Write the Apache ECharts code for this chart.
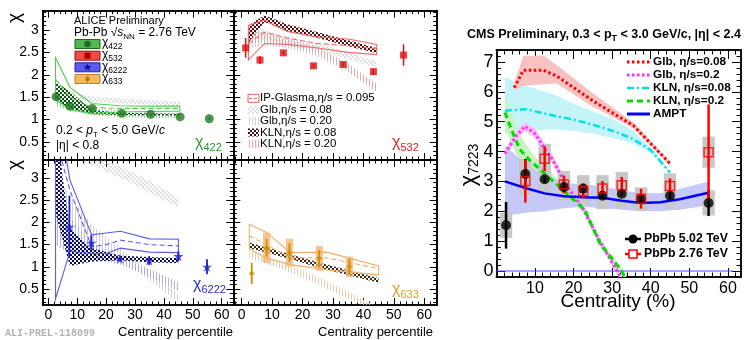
<!DOCTYPE html>
<html><head><meta charset="utf-8">
<script src="https://cdn.jsdelivr.net/npm/echarts@6.0.0/dist/echarts.min.js"></script>
<style>html,body{margin:0;padding:0;background:#fff;}#chart{width:747px;height:340px;}</style>
</head><body><div id="chart"></div>
<script>
// ======================= DATA =======================
// tick labels
const aliceXTickLabels = [0, 10, 20, 30, 40, 50, 60];
const aliceYTickLabels = [0.5, 1, 1.5, 2, 2.5, 3];
const cmsXTickLabels = [10, 20, 30, 40, 50, 60];
const cmsYTickLabels = [0, 1, 2, 3, 4, 5, 6, 7];

// ---- ALICE chi_422 (top-left) ----
const c422X = [2.7, 7.5, 15.2, 25.4, 35.4, 45.6, 55.7];
const c422Y = [1.51, 1.30, 1.25, 1.14, 1.12, 1.06, 1.02];
const c422Err = [0.03, 0.02, 0.02, 0.01, 0.01, 0.01, 0.02];
const m422X = [2.5, 7.5, 15, 25, 35, 45.5];
const m422IpgHi = [2.38, 1.72, 1.36, 1.31, 1.30, 1.30];
const m422IpgLo = [1.45, 1.22, 1.14, 1.17, 1.18, 1.19];
const m422IpgMid = [1.90, 1.50, 1.27, 1.25, 1.25, 1.25];
const m422Kln08Hi = [1.85, 1.62, 1.22, 1.15, 1.14, 1.13];
const m422Kln08Lo = [1.44, 1.25, 1.12, 1.10, 1.09, 1.09];
const m422Kln20Hi = [1.55, 1.40, 1.22, 1.15, 1.12, 1.10];
const m422Kln20Lo = [1.30, 1.20, 1.10, 1.06, 1.04, 1.03];
const m422Glb08Hi = [1.72, 1.60, 1.52, 1.47, 1.43, 1.40];
const m422Glb08Lo = [1.50, 1.45, 1.40, 1.36, 1.33, 1.30];
const m422Glb20Hi = [1.50, 1.40, 1.30, 1.22, 1.17, 1.14];
const m422Glb20Lo = [1.35, 1.28, 1.20, 1.14, 1.10, 1.07];

// ---- ALICE chi_532 (top-right) ----
const c532X = [1.3, 6.0, 13.7, 23.6, 33.4, 43.3, 53.2];
const c532Y = [2.60, 2.33, 2.49, 2.20, 2.23, 2.07, 2.44];
const c532Err = [0.22, 0.09, 0.04, 0.04, 0.04, 0.07, 0.24];
const m532X = [2.2, 7.5, 15, 25, 35, 44.4];
const m532IpgHi = [3.10, 3.22, 2.97, 2.84, 2.80, 2.68];
const m532IpgLo = [2.33, 2.70, 2.68, 2.60, 2.50, 2.45];
const m532IpgMid = [2.70, 2.95, 2.82, 2.70, 2.65, 2.58];
const m532Kln08Hi = [3.10, 3.33, 3.13, 2.95, 2.77, 2.60];
const m532Kln08Lo = [2.72, 3.18, 2.98, 2.82, 2.64, 2.48];
const m532Kln20Hi = [3.00, 2.95, 2.80, 2.62, 2.25, 1.80];
const m532Kln20Lo = [2.70, 2.75, 2.65, 2.48, 2.08, 1.65];
const m532Glb08Hi = [3.10, 3.00, 2.85, 2.70, 2.50, 2.30];
const m532Glb08Lo = [2.80, 2.80, 2.70, 2.55, 2.35, 2.15];
const m532Glb20Hi = [2.95, 2.85, 2.75, 2.55, 2.20, 1.75];
const m532Glb20Lo = [2.60, 2.65, 2.60, 2.40, 2.05, 1.60];

// ---- ALICE chi_6222 (bottom-left) ----
const c6222X = [7.3, 14.9, 24.8, 34.9, 45.0, 54.9];
const c6222Y = [1.90, 1.54, 1.18, 1.14, 1.24, 1.00];
const c6222Err = [0.70, 0.17, 0.05, 0.10, 0.11, 0.17];
const m6222IpgX = [2.5, 7.5, 15, 20, 25, 35, 45];
const m6222IpgHi = [4.80, 2.95, 1.72, 1.76, 1.80, 1.63, 1.62];
const m6222IpgLo = [0.28, 1.35, 1.30, 1.30, 1.42, 1.33, 1.32];
const m6222IpgMid = [3.90, 2.72, 1.45, 1.50, 1.60, 1.50, 1.47];
const m6222KlnX = [2.5, 5, 7.5, 15, 25, 35, 45];
const m6222Kln08Hi = [4.50, 3.00, 1.85, 1.42, 1.25, 1.22, 1.20];
const m6222Kln08Lo = [2.20, 1.60, 1.02, 1.12, 1.14, 1.10, 1.08];
const m6222X = [2.5, 7.5, 15, 25, 35, 45];
const m6222Kln20Hi = [2.55, 2.10, 1.55, 1.20, 0.95, 0.65];
const m6222Kln20Lo = [1.50, 1.30, 1.20, 1.05, 0.78, 0.45];
const m6222Glb08X = [2.5, 10, 20, 30, 40, 45];
const m6222Glb08Hi = [4.50, 3.75, 3.40, 3.10, 2.75, 2.55];
const m6222Glb08Lo = [4.00, 3.45, 3.15, 2.85, 2.50, 2.35];
const m6222Glb20Hi = [3.10, 2.60, 1.95, 1.40, 0.90, 0.38];
const m6222Glb20Lo = [2.30, 2.00, 1.60, 1.15, 0.70, 0.20];

// ---- ALICE chi_633 (bottom-right) ----
const c633X = [3.3, 8.2, 15.7, 25.5, 35.4];
const c633Y = [0.85, 1.43, 1.32, 1.19, 1.00];
const c633Err = [0.24, 0.20, 0.21, 0.19, 0.18];
const c633Sys = [0.00, 0.34, 0.31, 0.28, 0.23];
const m633IpgX = [2.5, 8, 16, 28, 45];
const m633IpgHi = [1.96, 1.78, 1.32, 1.33, 1.02];
const m633IpgLo = [1.40, 1.20, 1.05, 0.93, 0.82];
const m633IpgMid = [1.70, 1.50, 1.20, 1.20, 0.96];
const m633X = [2.5, 15, 25, 35, 45];
const m633Kln08Hi = [1.55, 1.30, 1.10, 0.92, 0.74];
const m633Kln08Lo = [1.42, 1.19, 0.99, 0.81, 0.64];
const m633Kln20X = [2.5, 15, 25, 35, 43];
const m633Kln20Hi = [1.38, 1.08, 0.78, 0.45, 0.15];
const m633Kln20Lo = [1.26, 0.96, 0.65, 0.30, 0.02];
const m633Glb08Hi = [1.50, 1.30, 1.12, 0.95, 0.80];
const m633Glb08Lo = [1.42, 1.22, 1.04, 0.87, 0.72];
const m633Glb20Hi = [1.30, 1.00, 0.70, 0.38, 0.10];
const m633Glb20Lo = [1.20, 0.90, 0.60, 0.28, 0.00];

// ---- CMS chi_7223 (right) ----
const cms502X = [2.5, 7.5, 12.5, 17.5, 22.5, 27.5, 32.5, 37.5, 45, 55];
const cms502Y = [1.53, 3.25, 3.07, 2.81, 2.76, 2.52, 2.59, 2.41, 2.52, 2.28];
const cms502Stat = [0.78, 0.50, 0.12, 0.08, 0.08, 0.08, 0.08, 0.08, 0.10, 0.44];
const cms502Sys = [0.42, 0.50, 0.45, 0.45, 0.45, 0.45, 0.50, 0.38, 0.43, 0.42];
const cms276X = [7.5, 12.5, 17.5, 22.5, 27.5, 32.5, 37.5, 45, 55];
const cms276Y = [3.01, 3.76, 2.90, 2.68, 2.76, 2.87, 2.42, 2.85, 3.98];
const cms276Stat = [0.72, 0.42, 0.30, 0.25, 0.25, 0.28, 0.33, 0.25, 1.60];
const cms276Sys = [0.45, 0.50, 0.45, 0.45, 0.45, 0.45, 0.38, 0.42, 0.52];
const glb08X = [4.6, 7, 12.2, 15.6, 25, 35.5, 45];
const glb08Y = [6.14, 6.72, 6.72, 6.53, 5.70, 4.87, 3.60];
const glb08Hi = [6.30, 7.20, 7.22, 6.90, 5.95, 4.98, 3.66];
const glb08Lo = [6.05, 6.20, 6.25, 6.28, 5.50, 4.78, 3.52];
const glb02X = [2.2, 5, 7.4, 10, 12, 14.7, 18, 22.4, 26.8, 31.3, 33];
const glb02Y = [3.93, 4.50, 4.85, 4.60, 4.20, 3.70, 2.90, 2.10, 1.00, 0.00, -0.40];
const glb02Hi = [4.05, 4.65, 5.00, 4.78, 4.38, 3.85, 3.05, 2.22, 1.12, 0.10, -0.30];
const glb02Lo = [3.80, 4.35, 4.70, 4.45, 4.05, 3.55, 2.75, 1.98, 0.88, -0.10, -0.50];
const kln08X = [2.2, 7.5, 15, 20, 25, 30, 35, 40, 45];
const kln08Y = [5.37, 5.42, 5.20, 5.07, 4.90, 4.70, 4.45, 4.05, 3.30];
const kln08Hi = [6.50, 6.20, 5.90, 5.60, 5.35, 5.10, 4.75, 4.15, 3.35];
const kln08Lo = [4.60, 4.70, 4.75, 4.70, 4.60, 4.45, 4.30, 3.95, 3.25];
const kln02X = [2.2, 4, 6.1, 8.7, 11.3, 17, 23, 26.8, 32.5, 34];
const kln02Y = [5.31, 4.70, 4.07, 3.70, 3.40, 2.75, 2.03, 0.93, 0.00, -0.40];
const kln02Hi = [5.90, 5.25, 4.55, 4.05, 3.65, 2.92, 2.15, 1.05, 0.10, -0.30];
const kln02Lo = [4.80, 4.25, 3.65, 3.35, 3.12, 2.58, 1.90, 0.80, -0.10, -0.50];
const amptX = [2.2, 7.5, 12.5, 17.5, 22.5, 27.5, 32.5, 37.5, 42.5, 47.5, 55];
const amptY = [3.00, 2.78, 2.60, 2.50, 2.47, 2.45, 2.35, 2.28, 2.30, 2.40, 2.62];
const amptHi = [4.20, 3.60, 3.20, 2.95, 2.90, 2.85, 2.70, 2.60, 2.60, 2.75, 3.00];
const amptLo = [1.85, 1.95, 2.00, 2.10, 2.15, 2.10, 2.05, 2.00, 2.00, 2.05, 2.20];
const zeroLineX = [0, 61.3];
const zeroLineY = [0, 0];

// ======================= LAYOUT / STYLE =======================
const FONT = '"Liberation Sans", Arial, Helvetica, sans-serif';
const G = [
  {left:42.7, top:10.7, width:190.6, height:149.3, x:[-1.94, 64.0], y:[0.098, 3.431], xl:false, yl:true},
  {left:233.3, top:10.7, width:203.4, height:149.3, x:[-2.76, 64.1], y:[0.098, 3.431], xl:false, yl:false},
  {left:42.7, top:160, width:190.6, height:145, x:[-1.94, 64.0], y:[0.14, 3.405], xl:true, yl:true},
  {left:233.3, top:160, width:203.4, height:145, x:[-2.76, 64.1], y:[0.14, 3.405], xl:true, yl:false},
  {left:496.4, top:50, width:244.6, height:227, x:[0, 63.4], y:[-0.2, 7.4], xl:true, yl:true}
];
function range(a, b, s) { const r = []; for (let v = a; v <= b + 1e-9; v += s) r.push(Math.round(v * 1000) / 1000); return r; }
const grids = [], xAxes = [], yAxes = [], AX = [];
function mkAxis(gi, pos, rng, ticks, len, labels, fs, margin, lw) {
  return {type:'value', gridIndex:gi, position:pos, min:rng[0], max:rng[1],
    splitLine:{show:false}, axisPointer:{show:false},
    axisLine:{show:true, onZero:false, lineStyle:{color:'#000', width:lw}},
    axisTick:{show:true, inside:true, length:len, customValues:ticks, lineStyle:{color:'#000', width:1}},
    axisLabel: labels ? {show:true, customValues:labels, color:'#000', fontFamily:FONT, fontSize:fs, margin:margin,
      formatter: v => String(+(+v).toFixed(1))} : {show:false}};
}
G.forEach((g, gi) => {
  grids.push({left:g.left, top:g.top, width:g.width, height:g.height, containLabel:false, outerBoundsMode:'none'});
  const cms = gi === 4;
  const xMaj = cms ? range(10, 60, 10) : range(0, 60, 10);
  const xMin = cms ? range(2, 62, 2) : range(-2, 64, 2);
  const yMaj = cms ? range(0, 7, 1) : range(0.5, 3, 0.5);
  const yMin = cms ? range(-0.2, 7.4, 0.2) : range(0.1, 3.4, 0.1);
  const ML = cms ? 9 : 7, ms = cms ? 4.5 : 3.5, lw = cms ? 1.5 : 1.7;
  AX.push({x: xAxes.length, y: yAxes.length});
  xAxes.push(mkAxis(gi, 'bottom', g.x, xMaj, ML, g.xl ? (cms ? cmsXTickLabels : aliceXTickLabels) : null, cms ? 16 : 14, cms ? 4 : 3, lw));
  xAxes.push(mkAxis(gi, 'bottom', g.x, xMin, ms, null, 0, 0, lw));
  xAxes.push(mkAxis(gi, 'top', g.x, xMaj, ML, null, 0, 0, lw));
  xAxes.push(mkAxis(gi, 'top', g.x, xMin, ms, null, 0, 0, lw));
  yAxes.push(mkAxis(gi, 'left', g.y, yMaj, ML, g.yl ? (cms ? cmsYTickLabels : aliceYTickLabels) : null, cms ? 18 : 14, cms ? 3 : 4, lw));
  yAxes.push(mkAxis(gi, 'left', g.y, yMin, ms, null, 0, 0, lw));
  yAxes.push(mkAxis(gi, 'right', g.y, yMaj, ML, null, 0, 0, lw));
  yAxes.push(mkAxis(gi, 'right', g.y, yMin, ms, null, 0, 0, lw));
});

// patterns
function pattern(w, h, draw) { const c = document.createElement('canvas'); c.width = w; c.height = h; const g = c.getContext('2d'); draw(g); return {image:c, repeat:'repeat'}; }
const checker = col => pattern(4, 4, g => { g.fillStyle = col; g.fillRect(0, 0, 2, 2); g.fillRect(2, 2, 2, 2); });
const vhatch = col => pattern(3, 1, g => { g.fillStyle = col; g.fillRect(0, 0, 1, 1); });
const GLB08 = checker('rgba(175,175,185,0.38)');
const GLB20 = vhatch('rgba(170,170,180,0.55)');

// series helpers
function pairs(xs, ys) { return xs.map((x, i) => [x, ys[i]]); }
function band(ax, xs, lo, hi, style, z) {
  return {type:'custom', xAxisIndex:ax.x, yAxisIndex:ax.y, z:z, silent:true, clip:true,
    data: xs.map((x, i) => [x, lo[i], hi[i]]), encode:{x:0, y:[1, 2]},
    renderItem: (p, api) => {
      if (p.dataIndex !== 0) return;
      const pts = [];
      for (let i = 0; i < xs.length; i++) pts.push(api.coord([xs[i], hi[i]]));
      for (let i = xs.length - 1; i >= 0; i--) pts.push(api.coord([xs[i], lo[i]]));
      return {type:'polygon', shape:{points:pts}, style:Object.assign({}, style)};
    }};
}
function line(ax, xs, ys, color, width, dash, z) {
  return {type:'line', xAxisIndex:ax.x, yAxisIndex:ax.y, z:z, silent:true, showSymbol:false, symbol:'none',
    data: pairs(xs, ys), lineStyle:{color:color, width:width, type:dash || 'solid'}, clip:true};
}
function errs(ax, xs, ys, es, color, width, z) {
  return {type:'custom', xAxisIndex:ax.x, yAxisIndex:ax.y, z:z, silent:true, clip:true,
    data: xs.map((x, i) => [x, ys[i] - es[i], ys[i] + es[i]]), encode:{x:0, y:[1, 2]},
    renderItem: (p, api) => {
      const a = api.coord([api.value(0), api.value(1)]), b = api.coord([api.value(0), api.value(2)]);
      return {type:'line', shape:{x1:a[0], y1:a[1], x2:b[0], y2:b[1]}, style:{stroke:color, lineWidth:width}};
    }};
}
function boxes(ax, xs, ys, es, hw, fill, z) {
  return {type:'custom', xAxisIndex:ax.x, yAxisIndex:ax.y, z:z, silent:true, clip:true,
    data: xs.map((x, i) => [x, ys[i] - es[i], ys[i] + es[i]]), encode:{x:0, y:[1, 2]},
    renderItem: (p, api) => {
      if (api.value(2) - api.value(1) <= 0) return;
      const a = api.coord([api.value(0) - hw, api.value(2)]), b = api.coord([api.value(0) + hw, api.value(1)]);
      return {type:'rect', shape:{x:a[0], y:a[1], width:b[0] - a[0], height:b[1] - a[1]}, style:{fill:fill}};
    }};
}
function pts(ax, xs, ys, symbol, size, style, z) {
  return {type:'scatter', xAxisIndex:ax.x, yAxisIndex:ax.y, z:z, silent:true, symbol:symbol, symbolSize:size,
    data: pairs(xs, ys), itemStyle:style};
}
const STAR = 'path://M50,0 L61,35 L98,35 L68,57 L79,91 L50,70 L21,91 L32,57 L2,35 L39,35 Z';

const series = [];
function alice(ax, d, c) {
  series.push(band(ax, d.glb08X, d.glb08Lo, d.glb08Hi, {fill:GLB08}, 1));
  series.push(band(ax, d.glb20X, d.glb20Lo, d.glb20Hi, {fill:GLB20}, 1));
  series.push(band(ax, d.kln20X, d.kln20Lo, d.kln20Hi, {fill:vhatch(c.k20)}, 2));
  series.push(band(ax, d.kln08X, d.kln08Lo, d.kln08Hi, {fill:checker(c.k08)}, 3));
  series.push(band(ax, d.ipgX, d.ipgLo, d.ipgHi, {fill:null, stroke:c.ipg, lineWidth:1.1}, 4));
  series.push(line(ax, d.ipgX, d.ipgMid, c.ipg, 1.1, [5, 3], 4));
}
alice(AX[0], {glb08X:m422X, glb08Lo:m422Glb08Lo, glb08Hi:m422Glb08Hi, glb20X:m422X, glb20Lo:m422Glb20Lo, glb20Hi:m422Glb20Hi,
  kln20X:m422X, kln20Lo:m422Kln20Lo, kln20Hi:m422Kln20Hi, kln08X:m422X, kln08Lo:m422Kln08Lo, kln08Hi:m422Kln08Hi,
  ipgX:m422X, ipgLo:m422IpgLo, ipgHi:m422IpgHi, ipgMid:m422IpgMid},
  {k20:'rgba(110,210,110,0.8)', k08:'#0e4f12', ipg:'#4fd04f'});
series.push(errs(AX[0], c422X, c422Y, c422Err, '#1f7a1f', 1.5, 6));
series.push(pts(AX[0], c422X, c422Y, 'circle', 9, {color:'#1f7a1f'}, 7));

alice(AX[1], {glb08X:m532X, glb08Lo:m532Glb08Lo, glb08Hi:m532Glb08Hi, glb20X:m532X, glb20Lo:m532Glb20Lo, glb20Hi:m532Glb20Hi,
  kln20X:m532X, kln20Lo:m532Kln20Lo, kln20Hi:m532Kln20Hi, kln08X:m532X, kln08Lo:m532Kln08Lo, kln08Hi:m532Kln08Hi,
  ipgX:m532X, ipgLo:m532IpgLo, ipgHi:m532IpgHi, ipgMid:m532IpgMid},
  {k20:'rgba(240,150,150,0.75)', k08:'#5a0a0a', ipg:'#ec6a6a'});
series.push(errs(AX[1], c532X, c532Y, c532Err, '#dd1111', 1.5, 6));
series.push(pts(AX[1], c532X, c532Y, 'rect', 7, {color:'#dd1111'}, 7));

alice(AX[2], {glb08X:m6222Glb08X, glb08Lo:m6222Glb08Lo, glb08Hi:m6222Glb08Hi, glb20X:m6222X, glb20Lo:m6222Glb20Lo, glb20Hi:m6222Glb20Hi,
  kln20X:m6222X, kln20Lo:m6222Kln20Lo, kln20Hi:m6222Kln20Hi, kln08X:m6222KlnX, kln08Lo:m6222Kln08Lo, kln08Hi:m6222Kln08Hi,
  ipgX:m6222IpgX, ipgLo:m6222IpgLo, ipgHi:m6222IpgHi, ipgMid:m6222IpgMid},
  {k20:'rgba(150,150,235,0.75)', k08:'#0b0b55', ipg:'#5c5cea'});
series.push(errs(AX[2], c6222X, c6222Y, c6222Err, '#2020d0', 1.8, 6));
series.push(pts(AX[2], c6222X, c6222Y, STAR, 10, {color:'#2020d0'}, 7));

alice(AX[3], {glb08X:m633X, glb08Lo:m633Glb08Lo, glb08Hi:m633Glb08Hi, glb20X:m633X, glb20Lo:m633Glb20Lo, glb20Hi:m633Glb20Hi,
  kln20X:m633Kln20X, kln20Lo:m633Kln20Lo, kln20Hi:m633Kln20Hi, kln08X:m633X, kln08Lo:m633Kln08Lo, kln08Hi:m633Kln08Hi,
  ipgX:m633IpgX, ipgLo:m633IpgLo, ipgHi:m633IpgHi, ipgMid:m633IpgMid},
  {k20:'rgba(248,200,150,0.8)', k08:'#3a2a12', ipg:'#f6ad6a'});
series.push(boxes(AX[3], c633X, c633Y, c633Sys, 1.2, 'rgba(246,178,110,0.75)', 5));
series.push(errs(AX[3], c633X, c633Y, c633Err, '#c89000', 1.8, 6));
series.push(pts(AX[3], c633X, c633Y, 'diamond', 6, {color:'#c89000'}, 7));

// CMS
const A = AX[4];
series.push(band(A, kln08X, kln08Lo, kln08Hi, {fill:'#c4f4f8'}, 1));
series.push(band(A, glb08X, glb08Lo, glb08Hi, {fill:'#f8c2c2'}, 1));
series.push(band(A, kln02X, kln02Lo, kln02Hi, {fill:'#c8f2c4'}, 1));
series.push(band(A, glb02X, glb02Lo, glb02Hi, {fill:'#f6c4f6'}, 1));
series.push(band(A, amptX, amptLo, amptHi, {fill:'#c6c8f8'}, 1));
series.push(boxes(A, cms502X, cms502Y, cms502Sys, 1.6, '#c8c8c8', 3));
series.push(boxes(A, cms276X, cms276Y, cms276Sys, 1.6, '#c8c8c8', 3));
series.push(line(A, zeroLineX, zeroLineY, '#4b4bff', 1, 'solid', 4));
series.push(line(A, glb08X, glb08Y, '#ff0000', 3, [2.5, 2.5], 4));
series.push(line(A, glb02X, glb02Y, '#ff30ff', 3, [2.5, 2.5], 4));
series.push(line(A, kln08X, kln08Y, '#00e0ea', 2.5, [7, 3, 2, 3], 4));
series.push(line(A, kln02X, kln02Y, '#00dd00', 3, [6, 4], 4));
series.push(line(A, amptX, amptY, '#0000ff', 2.5, 'solid', 4));
series.push(errs(A, cms502X, cms502Y, cms502Stat, '#000', 2.5, 5));
series.push(errs(A, cms276X, cms276Y, cms276Stat, '#ff0000', 2.5, 5));
series.push(pts(A, cms502X, cms502Y, 'circle', 10, {color:'#000'}, 6));
series.push(pts(A, cms276X, cms276Y, 'rect', 9, {color:'rgba(255,255,255,0)', borderColor:'#ff0000', borderWidth:1.5}, 7));

// ======================= TEXT / LEGENDS =======================
const mctx = document.createElement('canvas').getContext('2d');
function fontStr(p) { return (p.italic ? 'italic ' : '') + (p.bold ? 'bold ' : '') + p.size + 'px ' + (p.family || FONT); }
function seq(x, y, parts, opt) {
  opt = opt || {};
  const fonts = parts.map(fontStr);
  const widths = parts.map((p, i) => { mctx.font = fonts[i]; return mctx.measureText(p.t).width; });
  const total = widths.reduce((a, b) => a + b, 0);
  let cx = opt.align === 'center' ? x - total / 2 : opt.align === 'right' ? x - total : x;
  return parts.map((p, i) => {
    const el = {type:'text', x:cx, y:y + (p.dy || 0), silent:true, z:100,
      style:{text:p.t, font:fonts[i], fill:p.color || opt.color || '#000', textAlign:'left', textVerticalAlign:'middle', align:'left', verticalAlign:'middle'}};
    cx += widths[i];
    return el;
  });
}
function rot(x, y, parts) { return {type:'group', x:x, y:y, rotation:Math.PI / 2, silent:true, children:seq(0, 0, parts, {align:'center'})}; }
function chi(x, y, sub, color, size) {
  return seq(x, y, [{t:'χ', size:size, color:color}, {t:sub, size:Math.round(size * 0.68), dy:size * 0.33, color:color}]);
}
const els = [];
// ALICE texts
els.push(...seq(74, 21, [{t:'ALICE Preliminary', size:11}]));
els.push(...seq(74, 33, [{t:'Pb-Pb \u221A', size:12}, {t:'s', size:12, italic:true}, {t:'NN', size:8, dy:4}, {t:' = 2.76 TeV', size:12}]));
const aliceLeg = [
  {y:44, fill:'#53b653', stroke:'#1b6b1b', mk:'circle', mc:'#1f6f1f', sub:'422'},
  {y:55.7, fill:'#ef4a4a', stroke:'#a01010', mk:'rect', mc:'#b00000', sub:'532'},
  {y:67.3, fill:'#5a5aee', stroke:'#2020a0', mk:'star', mc:'#1010a0', sub:'6222'},
  {y:79, fill:'#f4b860', stroke:'#c08020', mk:'diamond', mc:'#b07800', sub:'633'}
];
aliceLeg.forEach(r => {
  els.push({type:'rect', shape:{x:75, y:r.y - 4.5, width:25, height:9}, style:{fill:r.fill, stroke:r.stroke, lineWidth:1}, silent:true, z:100});
  if (r.mk === 'circle') els.push({type:'circle', shape:{cx:87.5, cy:r.y, r:3.3}, style:{fill:r.mc}, silent:true, z:101});
  else if (r.mk === 'rect') els.push({type:'rect', shape:{x:84.5, y:r.y - 3, width:6, height:6}, style:{fill:r.mc}, silent:true, z:101});
  else if (r.mk === 'star') els.push({type:'polygon', shape:{points:[[87.5,r.y-4],[88.6,r.y-1.2],[91.5,r.y-1.2],[89.2,r.y+0.7],[90,r.y+3.6],[87.5,r.y+1.8],[85,r.y+3.6],[85.8,r.y+0.7],[83.5,r.y-1.2],[86.4,r.y-1.2]]}, style:{fill:r.mc}, silent:true, z:101});
  else els.push({type:'polygon', shape:{points:[[87.5,r.y-3.5],[90,r.y],[87.5,r.y+3.5],[85,r.y]]}, style:{fill:r.mc}, silent:true, z:101});
  els.push(...seq(102, r.y - 1, [{t:'χ', size:12}, {t:r.sub, size:8.5, dy:4}]));
});
els.push(...seq(56, 131, [{t:'0.2 < ', size:12}, {t:'p', size:12, italic:true}, {t:'T', size:8, dy:4}, {t:' < 5.0 GeV/', size:12}, {t:'c', size:12, italic:true}]));
els.push(...seq(56, 146, [{t:'|η| < 0.8', size:12}]));
els.push(...chi(195, 143, '422', '#2f962f', 16));
els.push(...chi(392, 143, '532', '#e02020', 16));
els.push(...chi(193, 285, '6222', '#2828d4', 16));
els.push(...chi(392, 290, '633', '#d8a020', 16));
// ALICE model legend (top-right panel)
const modelLeg = [
  {y:98.3, t:'IP-Glasma,η/s = 0.095'},
  {y:109.7, t:'Glb,η/s = 0.08', fill:GLB08},
  {y:121.1, t:'Glb,η/s = 0.20', fill:GLB20},
  {y:132.5, t:'KLN,η/s = 0.08', fill:checker('#4a0808')},
  {y:143.9, t:'KLN,η/s = 0.20', fill:vhatch('rgba(240,150,150,0.85)')}
];
modelLeg.forEach((r, i) => {
  if (i === 0) {
    els.push({type:'rect', shape:{x:248, y:r.y - 4, width:11, height:8}, style:{fill:null, stroke:'#e85a5a', lineWidth:1}, silent:true, z:100});
    els.push({type:'line', shape:{x1:249, y1:r.y, x2:258, y2:r.y}, style:{stroke:'#e85a5a', lineWidth:1, lineDash:[3, 2]}, silent:true, z:100});
  } else {
    els.push({type:'rect', shape:{x:248, y:r.y - 4, width:11, height:8}, style:{fill:r.fill}, silent:true, z:100});
  }
  els.push(...seq(260, r.y, [{t:r.t, size:11.5}]));
});
// ALICE axis titles
els.push(rot(15, 18, [{t:'χ', size:19}]));
els.push(rot(15, 165, [{t:'χ', size:19}]));
els.push(...seq(233, 332, [{t:'Centrality percentile', size:13}], {align:'right'}));
els.push(...seq(433, 332, [{t:'Centrality percentile', size:13}], {align:'right'}));
els.push(...seq(5, 333, [{t:'ALI-PREL-118099', size:10, bold:true, family:'"Liberation Mono", "DejaVu Sans Mono", monospace'}], {color:'#b4b4b4'}));
// CMS texts
els.push(...seq(467, 35, [{t:'CMS Preliminary, 0.3 < p', size:12.5, bold:true}, {t:'T', size:9, bold:true, dy:4}, {t:' < 3.0 GeV/c, |η| < 2.4', size:12.5, bold:true}]));
els.push(rot(469, 165, [{t:'χ', size:22}, {t:'7223', size:14, dy:5}]));
els.push(...seq(618, 302, [{t:'Centrality (%)', size:19}], {align:'center'}));
const cmsLeg = [
  {y:62, c:'#ff0000', w:3, d:[2.5, 2.5], t:'Glb, η/s=0.08'},
  {y:75, c:'#ff30ff', w:3, d:[2.5, 2.5], t:'Glb, η/s=0.2'},
  {y:88, c:'#00e0ea', w:2.5, d:[7, 3, 2, 3], t:'KLN, η/s=0.08'},
  {y:101, c:'#00dd00', w:3, d:[6, 4], t:'KLN, η/s=0.2'},
  {y:114, c:'#0000ff', w:3, d:null, t:'AMPT'}
];
cmsLeg.forEach(r => {
  els.push({type:'line', shape:{x1:627, y1:r.y, x2:650, y2:r.y}, style:{stroke:r.c, lineWidth:r.w, lineDash:r.d}, silent:true, z:100});
  els.push(...seq(653, r.y, [{t:r.t, size:11.8, bold:true}]));
});
els.push({type:'line', shape:{x1:625, y1:239, x2:641, y2:239}, style:{stroke:'#000', lineWidth:2.5}, silent:true, z:100});
els.push({type:'circle', shape:{cx:633, cy:239, r:4.5}, style:{fill:'#000'}, silent:true, z:101});
els.push(...seq(644, 239, [{t:'PbPb 5.02 TeV', size:12.3, bold:true}]));
els.push({type:'line', shape:{x1:625, y1:254, x2:641, y2:254}, style:{stroke:'#ff0000', lineWidth:2.5}, silent:true, z:100});
els.push({type:'rect', shape:{x:629, y:250, width:8, height:8}, style:{fill:'#fff', stroke:'#ff0000', lineWidth:1.5}, silent:true, z:101});
els.push(...seq(644, 254, [{t:'PbPb 2.76 TeV', size:12.3, bold:true}]));

const chart = echarts.init(document.getElementById('chart'), null, {renderer:'canvas'});
chart.setOption({
  animation:false, backgroundColor:'#fff',
  grid:grids, xAxis:xAxes, yAxis:yAxes, series:series,
  graphic:{elements:els}
});
</script></body></html>
